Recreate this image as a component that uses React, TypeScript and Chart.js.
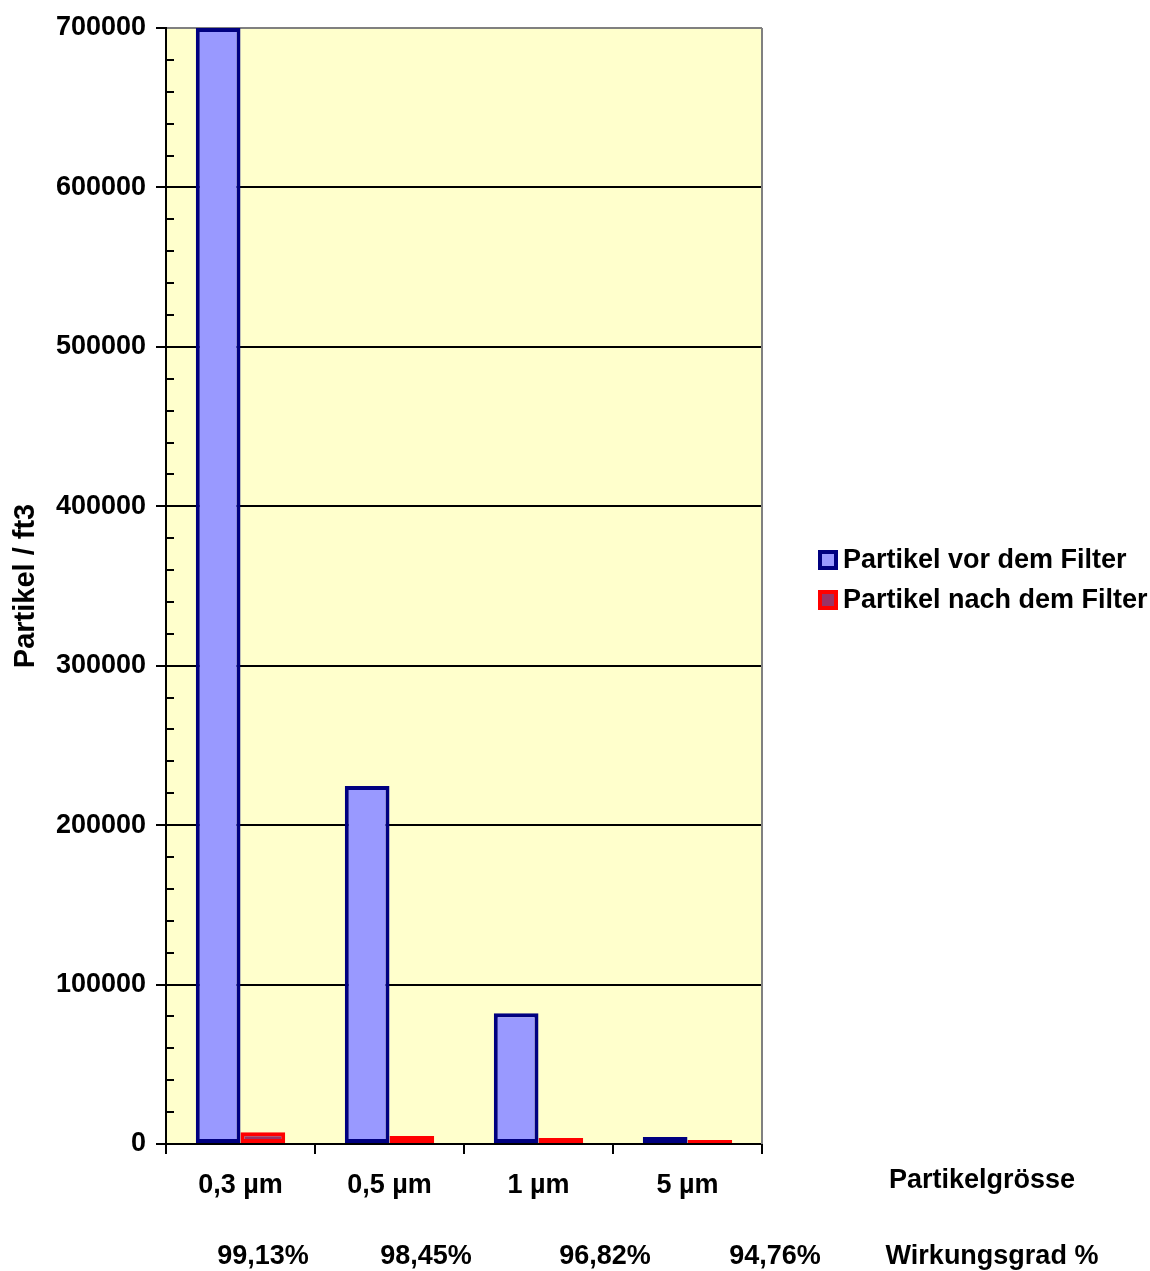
import React, { useEffect, useRef } from "react";
import { Chart, registerables } from "chart.js";

Chart.register(...registerables);

const categories = ["0,3 µm", "0,5 µm", "1 µm", "5 µm"];
const vorFilter = [700000, 224500, 82000, 4400];
const nachFilter = [7400, 5000, 3700, 2500];
const efficiencyLabels = ["99,13%", "98,45%", "96,82%", "94,76%"];
const seriesNames = ["Partikel vor dem Filter", "Partikel nach dem Filter"];
const yMax = 700000;
const yStep = 100000;
const yMinorStep = 20000;

const FAMILY = '"Liberation Sans", Arial, Helvetica, sans-serif';
const FONT = `bold 27px ${FAMILY}`;

const decorPlugin = {
  id: "decor",
  beforeDraw(chart: any) {
    const { ctx, chartArea: a } = chart;
    ctx.save();
    ctx.fillStyle = "#FFFFCC";
    ctx.fillRect(a.left, a.top, a.right - a.left, a.bottom - a.top);
    ctx.restore();
  },
  beforeDatasetsDraw(chart: any) {
    const { ctx, chartArea: a } = chart;
    const y = chart.scales.y;
    ctx.save();
    ctx.strokeStyle = "#808080";
    ctx.lineWidth = 2;
    ctx.beginPath();
    ctx.moveTo(a.right, a.top);
    ctx.lineTo(a.right, a.bottom);
    ctx.stroke();
    ctx.strokeStyle = "#000";
    ctx.lineWidth = 2;
    for (let v = yMinorStep; v < yMax; v += yMinorStep) {
      if (v % yStep === 0) continue;
      const py = Math.round(y.getPixelForValue(v));
      ctx.beginPath();
      ctx.moveTo(a.left, py);
      ctx.lineTo(a.left + 8, py);
      ctx.stroke();
    }
    ctx.restore();
  },
  afterDraw(chart: any) {
    const { ctx } = chart;
    ctx.save();
    ctx.font = FONT;
    ctx.fillStyle = "#000";
    ctx.textBaseline = "middle";
    const legendX = 818;
    const legendY = [560, 600];
    const fills = ["#9999FF", "#993366"];
    const strokes = ["#000080", "#FF0000"];
    seriesNames.forEach((name, i) => {
      const cy = legendY[i];
      ctx.fillStyle = strokes[i];
      ctx.fillRect(legendX, cy - 10, 20, 20);
      ctx.fillStyle = fills[i];
      ctx.fillRect(legendX + 4, cy - 6, 12, 12);
      ctx.fillStyle = "#000";
      ctx.textAlign = "left";
      ctx.fillText(name, legendX + 25, cy + 1);
    });
    ctx.textAlign = "center";
    ctx.fillText("Partikelgrösse", 982, 1181);
    const effX = [263, 426, 605, 775];
    efficiencyLabels.forEach((t, i) => ctx.fillText(t, effX[i], 1257));
    ctx.fillText("Wirkungsgrad %", 992, 1257);
    ctx.restore();
  },
};

export default function App() {
  const ref = useRef<HTMLCanvasElement | null>(null);
  useEffect(() => {
    if (!ref.current) return;
    const font = { family: FAMILY, size: 27, weight: "bold" as const };
    const chart = new Chart(ref.current, {
      type: "bar",
      data: {
        labels: categories,
        datasets: [
          {
            label: seriesNames[0],
            data: vorFilter,
            backgroundColor: "#9999FF",
            borderColor: "#000080",
            borderWidth: 4,
            borderSkipped: false,
            categoryPercentage: 0.6,
            barPercentage: 1,
          },
          {
            label: seriesNames[1],
            data: nachFilter,
            backgroundColor: "#993366",
            borderColor: "#FF0000",
            borderWidth: 4,
            borderSkipped: false,
            categoryPercentage: 0.6,
            barPercentage: 1,
          },
        ],
      },
      options: {
        responsive: false,
        animation: false,
        layout: { padding: { top: 28, right: 388, left: 0, bottom: 0 } },
        plugins: {
          legend: { display: false },
          tooltip: { enabled: false },
        },
        scales: {
          x: {
            ticks: { font, color: "#000", padding: 15 },
            grid: {
              offset: true,
              drawOnChartArea: false,
              tickLength: 10,
              color: "#000",
              lineWidth: 2,
            },
            border: { color: "#000", width: 2 },
            afterFit: (s: any) => {
              s.height = 127;
            },
          },
          y: {
            min: 0,
            max: yMax,
            ticks: {
              stepSize: yStep,
              font,
              color: "#000",
              padding: 10,
              callback: (v: any) => String(v),
            },
            grid: {
              color: (c: any) => (c.tick && c.tick.value === yMax ? "#808080" : "#000"),
              tickColor: "#000",
              lineWidth: 2,
              tickLength: 10,
            },
            border: { color: "#000", width: 2 },
            title: {
              display: true,
              text: "Partikel / ft3",
              font: { family: FAMILY, size: 29, weight: "bold" as const },
              color: "#000",
              padding: { top: 9, bottom: 0 },
            },
            afterFit: (s: any) => {
              s.width = 166;
            },
          },
        },
      },
      plugins: [decorPlugin],
    });
    return () => chart.destroy();
  }, []);
  return (
    <div style={{ position: "absolute", left: 0, top: 0, width: 1150, height: 1271, background: "#fff" }}>
      <canvas ref={ref} width={1150} height={1271} style={{ display: "block" }} />
    </div>
  );
}
